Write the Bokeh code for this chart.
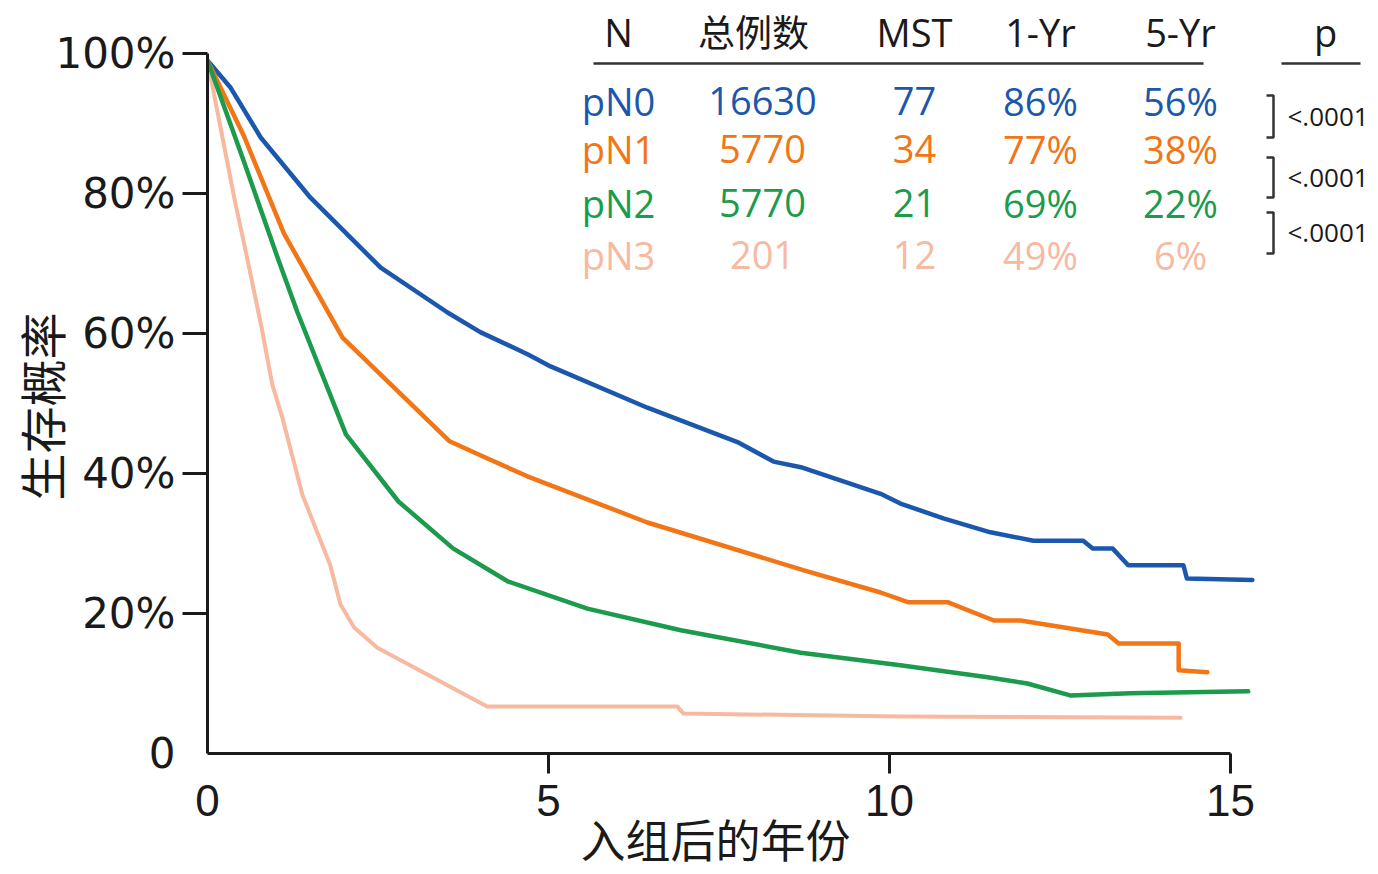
from bokeh.plotting import figure
from bokeh.models import Range1d, FixedTicker, LinearAxis, ColumnDataSource, Title
from bokeh.core.properties import value
from bokeh.embed import file_html
from bokeh.resources import INLINE

# ---------------- data ----------------
GROUPS = ["pN0", "pN1", "pN2", "pN3"]
COLORS = ["#1b57ad", "#f27516", "#1b9b4b", "#f7b9a0"]
TOTAL = [16630, 5770, 5770, 201]
MST = [77, 34, 21, 12]
YR1 = [86, 77, 69, 49]
YR5 = [56, 38, 22, 6]
P_VALUES = ["<.0001", "<.0001", "<.0001"]
HEADERS = ["N", "总例数", "MST", "1-Yr", "5-Yr", "p"]

t_pN0 = [0, 0.34, 0.78, 1.51, 2.54, 3.52, 4.0, 4.7, 5.03, 6.45, 7.79, 8.3, 8.7, 9.87,
         10.16, 10.79, 11.48, 12.11, 12.84, 12.98, 13.27, 13.5, 14.31, 14.36, 15.32]
s_pN0 = [99, 95.1, 88, 79.4, 69.4, 63.0, 60.2, 57.0, 55.3, 49.4, 44.4, 41.7, 40.9, 37.1,
         35.7, 33.6, 31.6, 30.4, 30.4, 29.3, 29.3, 26.9, 26.9, 25.0, 24.8]

t_pN1 = [0, 0.53, 1.12, 1.98, 3.55, 4.0, 4.69, 6.45, 8.77, 9.87, 10.28, 10.86, 11.53,
         11.92, 13.2, 13.36, 14.24, 14.24, 14.66]
s_pN1 = [99, 88.3, 74.3, 59.4, 44.6, 42.6, 39.6, 33.0, 26.1, 23.0, 21.6, 21.6, 19.0,
         19.0, 17.0, 15.7, 15.7, 11.9, 11.6]

t_pN2 = [0, 0.5, 1.04, 1.32, 2.03, 2.8, 3.6, 4.4, 5.57, 6.94, 8.7, 10.16, 11.44, 12.02,
         12.65, 13.53, 15.26]
s_pN2 = [99, 85.5, 70.5, 63.0, 45.6, 36.0, 29.3, 24.6, 20.7, 17.6, 14.4, 12.6, 10.9, 10.0,
         8.3, 8.6, 8.9]

t_pN3 = [0, 0.40, 0.54, 0.79, 0.95, 1.10, 1.39, 1.80, 1.95, 2.15, 2.49, 4.1, 6.89, 6.98,
         10.16, 14.27]
s_pN3 = [99, 79, 72.7, 61, 52.7, 47.9, 37, 26.9, 21.3, 18, 15.1, 6.7, 6.7, 5.7, 5.3, 5.1]

SERIES_T = [t_pN0, t_pN1, t_pN2, t_pN3]
SERIES_S = [s_pN0, s_pN1, s_pN2, s_pN3]

XTICKS = [0, 5, 10, 15]
YTICKS = [0, 20, 40, 60, 80, 100]
YTICK_LABELS = ["0", "20%", "40%", "60%", "80%", "100%"]
XLABEL = "入组后的年份"
YLABEL = "生存概率"

# ---------------- layout ----------------
W, H = 1378, 874
LEFT, BOTTOM = 207, 121
PX_X = 68.2   # pixels per year
PX_Y = 7.0    # pixels per percent
FW = W - LEFT
FH = H - BOTTOM


def dx(px):
    return (px - LEFT) / PX_X


def dy(py):
    return (FH - py) / PX_Y


p = figure(width=W, height=H, output_backend="svg", toolbar_location=None,
           x_range=Range1d(0, FW / PX_X), y_range=Range1d(0, FH / PX_Y),
           min_border_left=LEFT, min_border_right=0, min_border_top=0,
           min_border_bottom=BOTTOM, title=None)
p.grid.visible = False
p.outline_line_color = None
p.background_fill_color = "white"
p.border_fill_color = "white"

AX = "#1a1a1a"
# inner axes: line + tick marks (no tick at the origin)
for ax in (p.xaxis[0], p.yaxis[0]):
    ax.axis_line_width = 3
    ax.axis_line_color = AX
    ax.major_tick_line_width = 3
    ax.major_tick_line_color = AX
    ax.major_tick_in = 0
    ax.minor_tick_line_color = None
    ax.major_label_text_color = None
    ax.major_label_text_font_size = "0px"
    ax.major_label_standoff = 0

p.xaxis[0].ticker = FixedTicker(ticks=XTICKS[1:])
p.xaxis[0].bounds = (XTICKS[0], XTICKS[-1])
p.xaxis[0].major_tick_out = 20
p.yaxis[0].ticker = FixedTicker(ticks=YTICKS[1:])
p.yaxis[0].bounds = (YTICKS[0], YTICKS[-1])
p.yaxis[0].major_tick_out = 25

# outer axes: tick labels (including the origin)
xb = LinearAxis(ticker=FixedTicker(ticks=XTICKS), bounds=(XTICKS[0], XTICKS[-1]),
                axis_line_color=None, major_tick_line_color=None,
                minor_tick_line_color=None, major_tick_out=0, major_tick_in=0,
                major_label_standoff=11,
                major_label_text_font="Liberation Sans",
                major_label_text_font_size="44px",
                major_label_text_color="#1a1a1a")
p.add_layout(xb, "below")

yb = LinearAxis(ticker=FixedTicker(ticks=YTICKS), bounds=(YTICKS[0], YTICKS[-1]),
                axis_line_color=None, major_tick_line_color=None,
                minor_tick_line_color=None, major_tick_out=0, major_tick_in=0,
                major_label_standoff=7,
                major_label_text_font="DejaVu Sans",
                major_label_text_font_size="42px",
                major_label_text_color="#1a1a1a",
                major_label_overrides={t: l for t, l in zip(YTICKS, YTICK_LABELS)})
p.add_layout(yb, "left")

# axis titles (centred on the axis extent, not on the whole frame)
p.add_layout(Title(text=XLABEL, align="left", offset=373, standoff=-30,
                   text_font="Noto Sans CJK SC", text_font_size="45px",
                   text_font_style="normal", text_color="#1a1a1a"), "below")
p.add_layout(Title(text=YLABEL, align="left", offset=253, standoff=-45,
                   text_font="Noto Sans CJK SC", text_font_size="47px",
                   text_font_style="normal", text_color="#1a1a1a"), "left")

# survival curves
for idx in [0, 1, 3, 2]:
    p.line(SERIES_T[idx], SERIES_S[idx], line_color=COLORS[idx],
           line_width=4 if idx == 3 else 4.5, line_join="round", line_cap="round")

# ---------------- table ----------------
COL_X = [618, 762, 914, 1040, 1180]
HEAD_X = [618, 753, 914, 1040, 1180, 1325]
ROW_Y = [100, 148, 202, 254]
HEAD_Y = 31

cx, cy, ct, cc = [], [], [], []
for i, g in enumerate(GROUPS):
    vals = [g, str(TOTAL[i]), str(MST[i]), f"{YR1[i]}%", f"{YR5[i]}%"]
    for j, v in enumerate(vals):
        cx.append(dx(COL_X[j]))
        cy.append(dy(ROW_Y[i]))
        ct.append(v)
        cc.append(COLORS[i])
p.text(x="x", y="y", text="text", text_color="color",
       source=ColumnDataSource(dict(x=cx, y=cy, text=ct, color=cc)),
       text_align="center", text_baseline="middle",
       text_font=value("Open Sans"), text_font_size=value("38px"))

# header (Latin and CJK parts)
lat = [j for j, h in enumerate(HEADERS) if h != "总例数"]
p.text(x=[dx(HEAD_X[j]) for j in lat], y=[dy(HEAD_Y)] * len(lat),
       text=[HEADERS[j] for j in lat], text_align="center", text_baseline="middle",
       text_color="#1a1a1a", text_font=value("Open Sans"), text_font_size=value("38px"))
cj = HEADERS.index("总例数")
p.text(x=[dx(HEAD_X[cj])], y=[dy(HEAD_Y - 1)], text=[HEADERS[cj]], text_align="center",
       text_baseline="middle", text_color="#1a1a1a",
       text_font=value("Noto Sans CJK SC"), text_font_size=value("37px"))

# header rules
p.multi_line(xs=[[dx(593), dx(1203)], [dx(1281), dx(1360)]],
             ys=[[dy(63), dy(63)], [dy(63), dy(63)]],
             line_color="#333333", line_width=2.5)

# p-value brackets
BR = [(95, 137), (157, 197), (212, 253)]
bxs, bys = [], []
for (top, bot) in BR:
    bxs.append([dx(1266), dx(1273), dx(1273), dx(1266)])
    bys.append([dy(top), dy(top), dy(bot), dy(bot)])
p.multi_line(xs=bxs, ys=bys, line_color="#333333", line_width=2.5)
p.text(x=[dx(1287)] * len(P_VALUES), y=[dy((a + b) / 2 - 1) for a, b in BR],
       text=P_VALUES, text_align="left", text_baseline="middle",
       text_color="#1a1a1a", text_font=value("Open Sans"), text_font_size=value("26px"))

open("out.html", "w").write(file_html(p, INLINE))
